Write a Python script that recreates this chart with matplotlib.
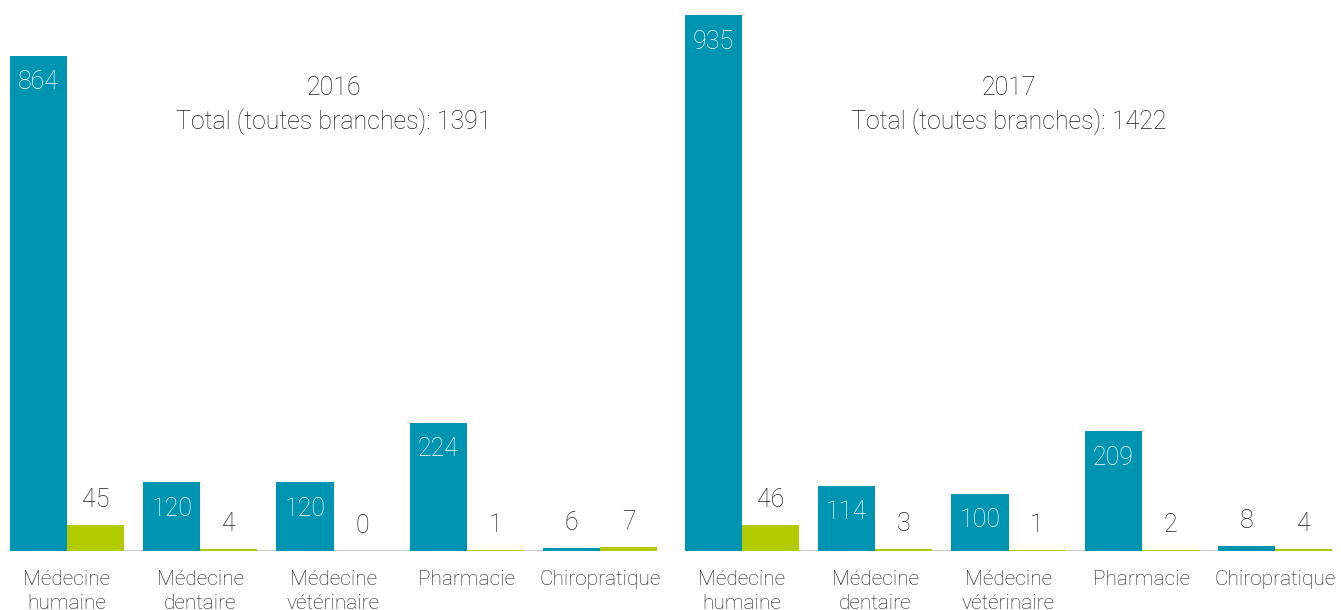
import matplotlib
matplotlib.use("Agg")
import matplotlib.pyplot as plt

plt.rcParams['font.family'] = ['Roboto', 'DejaVu Sans']

categories = ["Médecine\nhumaine", "Médecine\ndentaire", "Médecine\nvétérinaire", "Pharmacie", "Chiropratique"]
years = ["2016", "2017"]
totals = [1391, 1422]
blue_2016 = [864, 120, 120, 224, 6]
green_2016 = [45, 4, 0, 1, 7]
blue_2017 = [935, 114, 100, 209, 8]
green_2017 = [46, 3, 1, 2, 4]

BLUE = "#0094B3"
GREEN = "#B1CB00"
TEXT = "#1c1c1c"
GRID = "#c8c8c8"

W, H = 13.41, 6.10
fig = plt.figure(figsize=(W, H), dpi=100)

panels = [(years[0], totals[0], blue_2016, green_2016, 10),
          (years[1], totals[1], blue_2017, green_2017, 685)]

bw = 0.428
ymax = 960
for year, total, blues, greens, left_px in panels:
    ax = fig.add_axes([left_px / 1341, 59 / 610, 647 / 1341, 550 / 610])
    x = list(range(len(categories)))
    bars_b = ax.bar([i - bw / 2 for i in x], blues, width=bw, color=BLUE, zorder=3)
    bars_g = ax.bar([i + bw / 2 for i in x], greens, width=bw, color=GREEN, zorder=3)
    ax.axhline(0, color=GRID, lw=2, zorder=2)
    for bars, vals in ((bars_b, blues), (bars_g, greens)):
        for b, v in zip(bars, vals):
            cx = b.get_x() + b.get_width() / 2
            if v > 60:
                ax.annotate(str(v), (cx, v), xytext=(0, -19), textcoords='offset points',
                            ha='center', va='center', color='white', fontsize=18, fontweight='light')
            else:
                ax.annotate(str(v), (cx, v), xytext=(0, 18), textcoords='offset points',
                            ha='center', va='center', color=TEXT, fontsize=18, fontweight='light')
    ax.set_xlim(-bw, len(categories) - 1 + bw)
    ax.set_ylim(0, ymax)
    ax.set_xticks(x)
    ax.set_xticklabels(categories, fontsize=15, color=TEXT, fontweight='light', linespacing=1.35)
    ax.tick_params(axis='x', length=0, pad=13.5)
    ax.set_yticks([])
    for s in ax.spines.values():
        s.set_visible(False)
    ax.text(0.5, 1 - (88 - 1) / 550, year, transform=ax.transAxes, ha='center', va='center',
            fontsize=18, color=TEXT, fontweight='light')
    ax.text(0.5, 1 - (122 - 1) / 550, f"Total (toutes branches): {total}", transform=ax.transAxes,
            ha='center', va='center', fontsize=18, color=TEXT, fontweight='light')

fig.savefig("out.png", dpi=100)
